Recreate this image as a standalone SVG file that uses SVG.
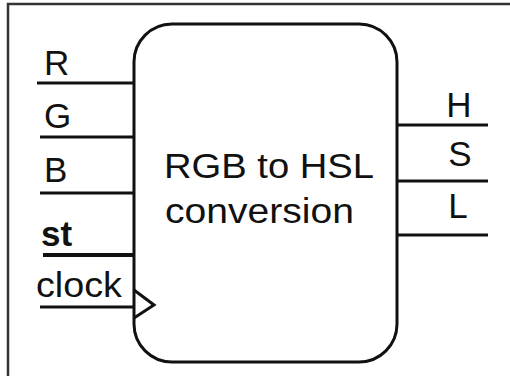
<svg xmlns="http://www.w3.org/2000/svg" width="510" height="376" viewBox="0 0 510 376">
  <style>
    .wire { stroke: #111; stroke-width: 3; fill: none; }
    .wire-bold { stroke: #111; stroke-width: 4; fill: none; }
    .pin { font-family: "Liberation Sans", Arial, sans-serif; font-size: 35px; fill: #111; }
    .pin-r { text-anchor: middle; }
    .title { font-family: "Liberation Sans", Arial, sans-serif; font-size: 35px; fill: #111; }
  </style>
  <rect x="0" y="0" width="510" height="376" fill="#ffffff"/>
  <!-- frame edges -->
  <path d="M8 376 V4 H510" stroke="#333" stroke-width="2.5" fill="none"/>

  <g id="block">
    <rect x="134" y="24" width="263" height="338" rx="38" ry="38" fill="#fff" stroke="#111" stroke-width="3"/>
    <text class="title" x="164" y="178" textLength="210" lengthAdjust="spacingAndGlyphs">RGB to HSL</text>
    <text class="title" x="165" y="223" textLength="189" lengthAdjust="spacingAndGlyphs">conversion</text>
  </g>

  <g id="connectors">
    <line class="wire" x1="37" y1="83" x2="134" y2="83"/>
    <line class="wire" x1="40" y1="137" x2="134" y2="137"/>
    <line class="wire" x1="40" y1="193" x2="134" y2="193"/>
    <line class="wire-bold" x1="43" y1="255" x2="134" y2="255"/>
    <line class="wire" x1="40" y1="307" x2="134" y2="307"/>
    <polyline class="wire" points="134,290 154,305 134,318"/>
    <line class="wire" x1="397" y1="125" x2="488" y2="125"/>
    <line class="wire" x1="397" y1="181" x2="488" y2="181"/>
    <line class="wire" x1="397" y1="235" x2="488" y2="235"/>
  </g>

  <g id="in-R"><text class="pin" x="44" y="75">R</text></g>
  <g id="in-G"><text class="pin" x="44" y="128">G</text></g>
  <g id="in-B"><text class="pin" x="44" y="182">B</text></g>
  <g id="in-st"><text class="pin" x="41" y="246" font-size="32" font-weight="bold">st</text></g>
  <g id="in-clock"><text class="pin" x="36" y="297" textLength="86" lengthAdjust="spacingAndGlyphs">clock</text></g>
  <g id="out-H"><text class="pin pin-r" x="459" y="117">H</text></g>
  <g id="out-S"><text class="pin pin-r" x="460" y="166">S</text></g>
  <g id="out-L"><text class="pin pin-r" x="458" y="218">L</text></g>
</svg>
